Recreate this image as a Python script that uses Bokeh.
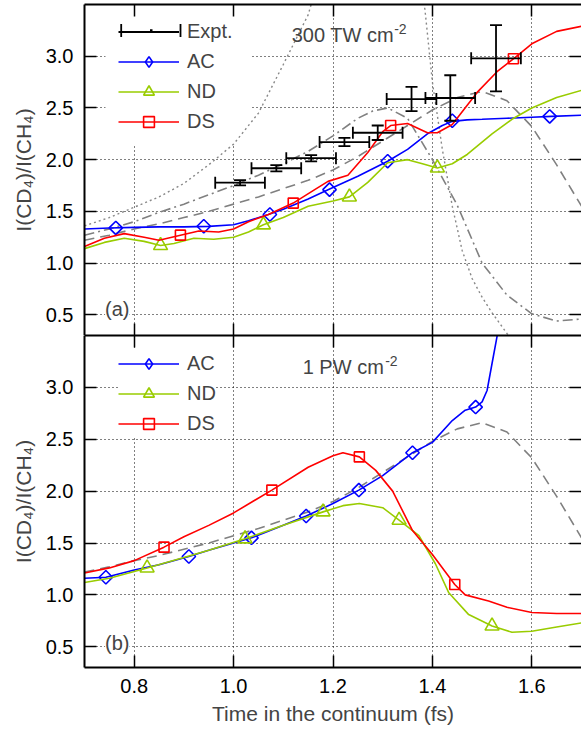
import numpy as np
from bokeh.plotting import figure
from bokeh.layouts import column
from bokeh.models import (LinearAxis, FixedTicker, PrintfTickFormatter, Range1d, Label,
                          Legend, LegendItem, Whisker, TeeHead, ColumnDataSource, BoxAnnotation)
from bokeh.embed import file_html
from bokeh.resources import INLINE

# ---------------- data: panel (a) 300 TW cm-2 ----------------
g1_x = [0.70, 0.75, 0.80, 0.85, 0.90, 0.95, 1.00, 1.05, 1.10, 1.15, 1.18,
        1.37, 1.385, 1.40, 1.42, 1.44, 1.46, 1.48, 1.50, 1.52, 1.55, 1.58]
g1_y = [1.36, 1.44, 1.54, 1.64, 1.77, 1.95, 2.15, 2.45, 2.92, 3.40, 3.90,
        3.90, 3.45, 2.75, 2.10, 1.55, 1.12, 0.85, 0.67, 0.52, 0.32, 0.15]
g2_x = [0.70, 0.75, 0.80, 0.85, 0.90, 0.95, 1.00, 1.05, 1.10, 1.15, 1.20, 1.25, 1.28,
        1.31, 1.35, 1.40, 1.45, 1.50, 1.55, 1.60, 1.65, 1.70]
g2_y = [1.27, 1.33, 1.40, 1.49, 1.57, 1.66, 1.75, 1.85, 1.96, 2.08, 2.23, 2.40, 2.47,
        2.50, 2.40, 2.00, 1.56, 1.00, 0.69, 0.51, 0.44, 0.46]
g3_x = [0.70, 0.75, 0.80, 0.85, 0.90, 0.95, 1.00, 1.05, 1.10, 1.15, 1.20, 1.25, 1.30,
        1.35, 1.40, 1.45, 1.50, 1.55, 1.60, 1.65, 1.70]
g3_y = [1.22, 1.27, 1.33, 1.38, 1.44, 1.50, 1.57, 1.64, 1.72, 1.80, 1.90, 2.03, 2.18,
        2.33, 2.48, 2.60, 2.66, 2.57, 2.32, 1.95, 1.55]

ac1_x = [0.70, 0.75, 0.80, 0.85, 0.90, 0.95, 1.00, 1.03, 1.07, 1.10, 1.15, 1.19, 1.25,
         1.31, 1.35, 1.39, 1.42, 1.44, 1.47, 1.50, 1.55, 1.60, 1.64, 1.70]
ac1_y = [1.33, 1.34, 1.345, 1.35, 1.35, 1.355, 1.37, 1.41, 1.47, 1.52, 1.62, 1.71, 1.84,
         1.985, 2.10, 2.25, 2.33, 2.37, 2.385, 2.39, 2.40, 2.41, 2.418, 2.43]
ac1_mx = [0.763, 0.94, 1.073, 1.193, 1.31, 1.44, 1.636]
ac1_my = [1.34, 1.356, 1.47, 1.71, 1.985, 2.376, 2.418]

nd1_x = [0.70, 0.74, 0.78, 0.82, 0.853, 0.88, 0.92, 0.96, 1.00, 1.03, 1.06, 1.10, 1.15,
         1.20, 1.233, 1.27, 1.31, 1.35, 1.38, 1.41, 1.44, 1.47, 1.52, 1.56, 1.60, 1.65, 1.70]
nd1_y = [1.14, 1.20, 1.24, 1.21, 1.17, 1.19, 1.24, 1.23, 1.25, 1.30, 1.37, 1.44, 1.55,
         1.60, 1.64, 1.78, 1.97, 2.00, 1.96, 1.92, 1.96, 2.05, 2.25, 2.39, 2.50, 2.60, 2.67]
nd1_mx = [0.853, 1.06, 1.233, 1.41]
nd1_my = [1.17, 1.37, 1.64, 1.92]

ds1_x = [0.70, 0.74, 0.78, 0.82, 0.85, 0.893, 0.93, 0.97, 1.00, 1.03, 1.07, 1.12, 1.16,
         1.19, 1.23, 1.27, 1.30, 1.316, 1.35, 1.39, 1.41, 1.44, 1.49, 1.53, 1.563, 1.60,
         1.65, 1.70]
ds1_y = [1.16, 1.24, 1.285, 1.25, 1.22, 1.27, 1.31, 1.30, 1.33, 1.40, 1.47, 1.58, 1.70,
         1.79, 1.85, 2.07, 2.27, 2.33, 2.35, 2.26, 2.26, 2.34, 2.65, 2.85, 2.975, 3.12,
         3.24, 3.29]
ds1_mx = [0.893, 1.12, 1.316, 1.563]
ds1_my = [1.27, 1.58, 2.33, 2.975]

ex_x = [1.013, 1.086, 1.156, 1.223, 1.29, 1.358, 1.436, 1.528]
ex_y = [1.777, 1.917, 2.014, 2.17, 2.26, 2.586, 2.596, 2.98]
ex_xerr = [0.05, 0.05, 0.05, 0.05, 0.05, 0.05, 0.05, 0.05]
ex_yerr = [0.025, 0.03, 0.03, 0.04, 0.07, 0.117, 0.22, 0.32]

# ---------------- data: panel (b) 1 PW cm-2 ----------------
ac2_x = [0.70, 0.743, 0.80, 0.85, 0.91, 0.95, 1.00, 1.036, 1.10, 1.146, 1.20, 1.252,
         1.30, 1.36, 1.40, 1.44, 1.466, 1.487, 1.50, 1.51, 1.52, 1.53, 1.536]
ac2_y = [1.16, 1.17, 1.24, 1.29, 1.37, 1.43, 1.50, 1.55, 1.67, 1.76, 1.88, 2.01,
         2.15, 2.37, 2.47, 2.68, 2.78, 2.81, 2.86, 2.97, 3.23, 3.49, 3.70]
ac2_mx = [0.743, 0.91, 1.036, 1.146, 1.252, 1.36, 1.487]
ac2_my = [1.17, 1.37, 1.55, 1.76, 2.01, 2.37, 2.81]

nd2_x = [0.70, 0.75, 0.826, 0.90, 0.95, 1.023, 1.10, 1.18, 1.22, 1.253, 1.30, 1.333,
         1.373, 1.406, 1.433, 1.473, 1.52, 1.56, 1.60, 1.65, 1.70]
nd2_y = [1.12, 1.16, 1.26, 1.36, 1.43, 1.54, 1.67, 1.80, 1.86, 1.88, 1.84, 1.72,
         1.57, 1.30, 1.02, 0.81, 0.70, 0.64, 0.65, 0.69, 0.73]
nd2_mx = [0.826, 1.023, 1.18, 1.333, 1.52]
nd2_my = [1.26, 1.54, 1.80, 1.72, 0.70]

ds2_x = [0.70, 0.75, 0.80, 0.86, 0.90, 0.95, 1.00, 1.077, 1.15, 1.20, 1.22, 1.253,
         1.286, 1.32, 1.36, 1.40, 1.445, 1.466, 1.513, 1.55, 1.60, 1.65, 1.70]
ds2_y = [1.21, 1.26, 1.33, 1.46, 1.56, 1.67, 1.79, 2.01, 2.23, 2.34, 2.37, 2.33,
         2.20, 2.00, 1.62, 1.39, 1.10, 1.00, 0.94, 0.88, 0.83, 0.82, 0.82]
ds2_mx = [0.86, 1.077, 1.253, 1.445]
ds2_my = [1.46, 2.01, 2.33, 1.10]

x_ticks = [0.8, 1.0, 1.2, 1.4, 1.6]
y_ticks = [0.5, 1.0, 1.5, 2.0, 2.5, 3.0]

FONT = "Liberation Sans"
BLUE = "#0000ff"
GREEN = "#99cc00"
RED = "#ff0000"
GRAY = "#808080"


def style_axis(ax, ticks, labels=True, line=True):
    ax.ticker = FixedTicker(ticks=ticks)
    ax.formatter = PrintfTickFormatter(format="%.1f")
    ax.major_tick_in = 12
    ax.major_tick_out = 0
    ax.minor_tick_line_color = None
    ax.major_tick_line_color = "black"
    ax.major_tick_line_width = 1.5
    ax.axis_line_color = "black" if line else None
    ax.axis_line_width = 2
    ax.major_label_text_font = FONT
    if labels:
        ax.major_label_text_color = "black"
        ax.major_label_text_font_size = "20px"
        ax.major_label_standoff = 11
    else:
        ax.major_label_text_color = None
        ax.major_label_text_font_size = "0px"
        ax.major_label_standoff = 0


def make_fig(height, min_top, min_bottom, bottom_labels):
    p = figure(width=581, height=height, x_range=Range1d(0.7, 1.7), y_range=Range1d(0.3, 3.5),
               output_backend="svg", toolbar_location=None,
               min_border_left=84, min_border_right=0,
               min_border_top=min_top, min_border_bottom=min_bottom)
    p.outline_line_color = None
    p.background_fill_color = "white"
    p.border_fill_color = "white"
    ax_bottom = p.below[0]
    ax_left = p.left[0]
    style_axis(ax_bottom, x_ticks, labels=bottom_labels)
    style_axis(ax_left, y_ticks, labels=True)
    ax_top = LinearAxis()
    style_axis(ax_top, x_ticks, labels=False)
    p.add_layout(ax_top, "above")
    ax_right = LinearAxis()
    style_axis(ax_right, y_ticks, labels=False, line=False)
    p.add_layout(ax_right, "right")
    ax_left.axis_label = "I(CD\u2084)/I(CH\u2084)"
    ax_left.axis_label_text_font = FONT
    ax_left.axis_label_text_font_size = "21px"
    ax_left.axis_label_text_font_style = "normal"
    ax_left.axis_label_standoff = 8
    for g in (p.xgrid[0], p.ygrid[0]):
        g.grid_line_color = "black"
        g.grid_line_dash = "1 3"
        g.grid_line_width = 1
    p.xgrid[0].ticker = FixedTicker(ticks=x_ticks)
    p.ygrid[0].ticker = FixedTicker(ticks=y_ticks)
    return p, ax_bottom


def curve(p, xs, ys, mx, my, color, marker, size, angle=0.0):
    lr = p.line(xs, ys, line_color=color, line_width=1.6)
    sr = p.scatter(mx, my, marker=marker, size=size, angle=angle, line_color=color,
                   line_width=1.6, fill_color=None)
    return lr, sr


def legend_marker(p, color, marker):
    return p.scatter([np.nan], [np.nan], marker=marker, line_color=color,
                     line_width=1.6, fill_color=None)


def screen_box(p, left, right, top, bottom, color, level):
    # frame-relative screen units (x from frame left, y upward from frame bottom)
    p.add_layout(BoxAnnotation(left=left, right=right, top=top, bottom=bottom,
                               left_units="screen", right_units="screen",
                               top_units="screen", bottom_units="screen",
                               fill_color=color, fill_alpha=1.0, line_color=None,
                               level=level))


LEG = dict(label_text_font=FONT, label_text_font_size="20px",
           glyph_width=61, glyph_height=27, label_height=27, spacing=3, padding=12,
           margin=0, border_line_color=None, label_standoff=8)

# ---------------- panel (a) ----------------
p1, _ = make_fig(335, 4, 0, False)
# white patch hiding the grid behind the legend
screen_box(p1, 21, 166, 331, 190, "white", "underlay")

p1.line(g1_x, g1_y, line_color="#888888", line_width=1.4, line_dash="2 3")
p1.line(g2_x, g2_y, line_color=GRAY, line_width=1.6, line_dash="10 4 2 4")
p1.line(g3_x, g3_y, line_color=GRAY, line_width=1.6, line_dash="10 6")

ac1 = curve(p1, ac1_x, ac1_y, ac1_mx, ac1_my, BLUE, "square", 9.5, np.pi / 4)
nd1 = curve(p1, nd1_x, nd1_y, nd1_mx, nd1_my, GREEN, "triangle", 14)
ds1 = curve(p1, ds1_x, ds1_y, ds1_mx, ds1_my, RED, "square", 10)

ex_arr_x = np.array(ex_x)
ex_arr_y = np.array(ex_y)
src = ColumnDataSource(dict(x=ex_arr_x, y=ex_arr_y,
                            xl=ex_arr_x - np.array(ex_xerr), xu=ex_arr_x + np.array(ex_xerr),
                            yl=ex_arr_y - np.array(ex_yerr), yu=ex_arr_y + np.array(ex_yerr)))
for base, lo, up, dim in (("y", "xl", "xu", "width"), ("x", "yl", "yu", "height")):
    p1.add_layout(Whisker(source=src, base=base, lower=lo, upper=up, dimension=dim,
                          line_color="black", line_width=1.8, level="glyph",
                          lower_head=TeeHead(size=12, line_color="black", line_width=1.8),
                          upper_head=TeeHead(size=12, line_color="black", line_width=1.8)))

ex_leg = p1.line([np.nan], [np.nan], line_color="black", line_width=1.8)

leg1 = Legend(items=[LegendItem(label="Expt.", renderers=[ex_leg]),
                     LegendItem(label="AC", renderers=[ac1[0], legend_marker(p1, BLUE, "diamond")]),
                     LegendItem(label="ND", renderers=[nd1[0], legend_marker(p1, GREEN, "triangle")]),
                     LegendItem(label="DS", renderers=[ds1[0], legend_marker(p1, RED, "square")])],
              location=(34, 200), background_fill_alpha=0.0, **LEG)
p1.add_layout(leg1)

# end caps and centre mark of the "Expt." legend sample
screen_box(p1, 35.8, 37.6, 311.5, 298.5, "black", "overlay")
screen_box(p1, 95.1, 96.9, 311.5, 298.5, "black", "overlay")
screen_box(p1, 65.5, 68.0, 306.3, 303.7, "black", "overlay")

p1.add_layout(Label(x=1.117, y=3.203, text="300 TW cm", text_font=FONT, text_font_size="20px",
                    text_baseline="middle"))
p1.add_layout(Label(x=1.323, y=3.26, text="-2", text_font=FONT, text_font_size="14px",
                    text_baseline="middle"))
p1.add_layout(Label(x=0.766, y=0.56, text="(a)", text_font=FONT, text_font_size="20px",
                    text_align="center", text_baseline="middle", background_fill_color="white"))

# ---------------- panel (b) ----------------
p2, xax2 = make_fig(394, 0, 62, True)
xax2.axis_label = "Time in the continuum (fs)"
xax2.axis_label_text_font = FONT
xax2.axis_label_text_font_size = "21px"
xax2.axis_label_text_font_style = "normal"
xax2.axis_label_standoff = 6

p2.line(g3_x, g3_y, line_color=GRAY, line_width=1.6, line_dash="10 6")
ac2 = curve(p2, ac2_x, ac2_y, ac2_mx, ac2_my, BLUE, "square", 9.5, np.pi / 4)
nd2 = curve(p2, nd2_x, nd2_y, nd2_mx, nd2_my, GREEN, "triangle", 14)
ds2 = curve(p2, ds2_x, ds2_y, ds2_mx, ds2_my, RED, "square", 10)

leg2 = Legend(items=[LegendItem(label="AC", renderers=[ac2[0], legend_marker(p2, BLUE, "diamond")]),
                     LegendItem(label="ND", renderers=[nd2[0], legend_marker(p2, GREEN, "triangle")]),
                     LegendItem(label="DS", renderers=[ds2[0], legend_marker(p2, RED, "square")])],
              location=(34, 230), background_fill_alpha=1.0, **LEG)
p2.add_layout(leg2)

p2.add_layout(Label(x=1.139, y=3.197, text="1 PW cm", text_font=FONT, text_font_size="20px",
                    text_baseline="middle"))
p2.add_layout(Label(x=1.305, y=3.25, text="-2", text_font=FONT, text_font_size="14px",
                    text_baseline="middle"))
p2.add_layout(Label(x=0.766, y=0.537, text="(b)", text_font=FONT, text_font_size="20px",
                    text_align="center", text_baseline="middle", background_fill_color="white"))

layout = column(p1, p2, spacing=0)
open("out.html", "w").write(file_html(layout, INLINE))
